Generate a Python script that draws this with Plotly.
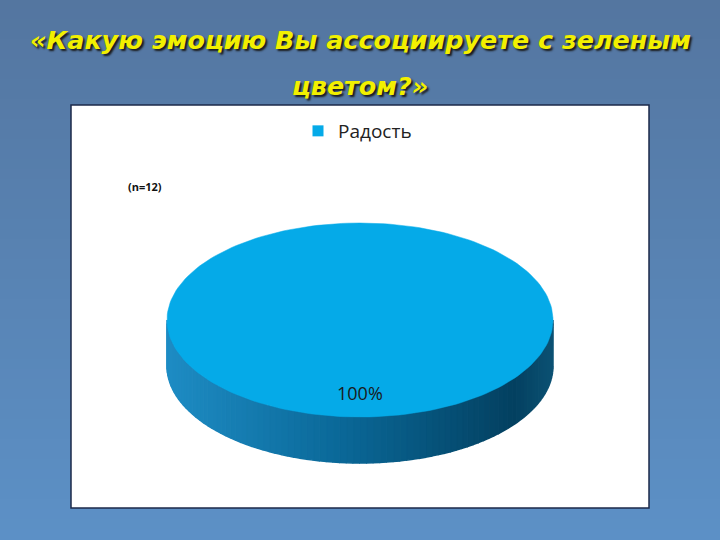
import numpy as np
import plotly.graph_objects as go

# chart data
labels = ['Радость']
values = [12]
colors = ['#05aae8']
title_lines = ['«Какую эмоцию Вы ассоциируете с зеленым', 'цветом?»']

W, H = 720, 540
cx, cy, rx, ry, depth = 360, 320, 193, 97, 46


def mix(c1, c2, t):
    return 'rgb(%d,%d,%d)' % tuple(round(a + (b - a) * t) for a, b in zip(c1, c2))


def side_color(u):
    # u in [0, 1] from left to right of the pie side
    stops = [(0.0, (30, 140, 196)), (0.45, (10, 104, 152)), (0.9, (3, 64, 96)), (1.0, (12, 82, 116))]
    for (u0, c0), (u1, c1) in zip(stops[:-1], stops[1:]):
        if u <= u1:
            return mix(c0, c1, (u - u0) / (u1 - u0))
    return mix(stops[-1][1], stops[-1][1], 0)


fig = go.Figure()

total = sum(values)
fracs = [v / total for v in values]

# visible side of the pie (front half), drawn as thin strips for shading
n_strips = 90
edges = np.linspace(0, np.pi, n_strips + 1)
for a0, a1 in zip(edges[:-1], edges[1:]):
    t = np.linspace(a0, a1, 4)
    xs = cx + rx * np.cos(t)
    ys = cy + ry * np.sin(t)
    px_ = np.concatenate([xs, xs[::-1]])
    py_ = np.concatenate([ys, ys[::-1] + depth])
    u = (np.cos((a0 + a1) / 2) + 1) / 2
    col = side_color(u)
    fig.add_trace(go.Scatter(x=px_, y=py_, mode='lines', fill='toself',
                             fillcolor=col, line=dict(width=1.5, color=col),
                             hoverinfo='skip', showlegend=False))

# top surface, one polygon per slice (start at 12 o'clock, clockwise)
start = -np.pi / 2
for lab, f, col in zip(labels, fracs, colors):
    t = np.linspace(start, start + 2 * np.pi * f, 200)
    xs = cx + rx * np.cos(t)
    ys = cy + ry * np.sin(t)
    if f < 1:
        xs = np.concatenate([[cx], xs, [cx]])
        ys = np.concatenate([[cy], ys, [cy]])
    fig.add_trace(go.Scatter(x=xs, y=ys, mode='lines', fill='toself',
                             fillcolor=col, line=dict(width=0.5, color=col),
                             hoverinfo='skip', showlegend=False))
    # legend entry with a square swatch
    fig.add_trace(go.Scatter(x=[None], y=[None], mode='markers', name=lab,
                             marker=dict(symbol='square', size=11, color=col)))
    mid = start + np.pi * f
    fig.add_annotation(x=cx + 0.75 * rx * np.cos(mid), y=cy + 0.75 * ry * np.sin(mid),
                       text=f'{f:.0%}', showarrow=False,
                       font=dict(family='Open Sans', size=18, color='#1a1a1a'))
    start += 2 * np.pi * f

# background gradient
shapes = []
bands = 54
top_c, bot_c = (84, 118, 160), (92, 144, 198)
for i in range(bands):
    shapes.append(dict(type='rect', xref='paper', yref='paper', layer='below',
                       x0=0, x1=1, y0=1 - (i + 1) / bands, y1=1 - i / bands + 0.002,
                       fillcolor=mix(top_c, bot_c, i / (bands - 1)), line=dict(width=0)))
# white chart box
shapes.append(dict(type='rect', xref='x', yref='y', layer='below',
                   x0=71, x1=649, y0=105, y1=508,
                   fillcolor='white', line=dict(color='#1c2a4a', width=1.5)))

title_font = dict(family='DejaVu Sans', size=25.4, color='#f2f000',
                  weight='bold', style='italic', shadow='2px 2px 2px #1a1a1a')
for line, ty in zip(title_lines, [40, 86]):
    fig.add_annotation(x=W / 2, y=ty, text=line, showarrow=False, font=title_font)

fig.add_annotation(x=145, y=186, text=f'(n={total})', showarrow=False,
                   font=dict(family='Open Sans', size=11, color='#111', weight='bold'))

fig.update_layout(
    width=W, height=H,
    margin=dict(l=0, r=0, t=0, b=0),
    paper_bgcolor='#5a84b4',
    plot_bgcolor='rgba(0,0,0,0)',
    shapes=shapes,
    showlegend=True,
    legend=dict(orientation='h', x=298 / W, y=1 - 131 / H, xanchor='left', yanchor='middle',
                itemwidth=30, bgcolor='rgba(0,0,0,0)',
                font=dict(family='Open Sans', size=19, color='#222')),
    xaxis=dict(range=[0, W], visible=False, fixedrange=True),
    yaxis=dict(range=[H, 0], visible=False, fixedrange=True),
)

fig.write_html('out.html', config={'displayModeBar': False},
               post_script="document.body.style.margin='0';")
